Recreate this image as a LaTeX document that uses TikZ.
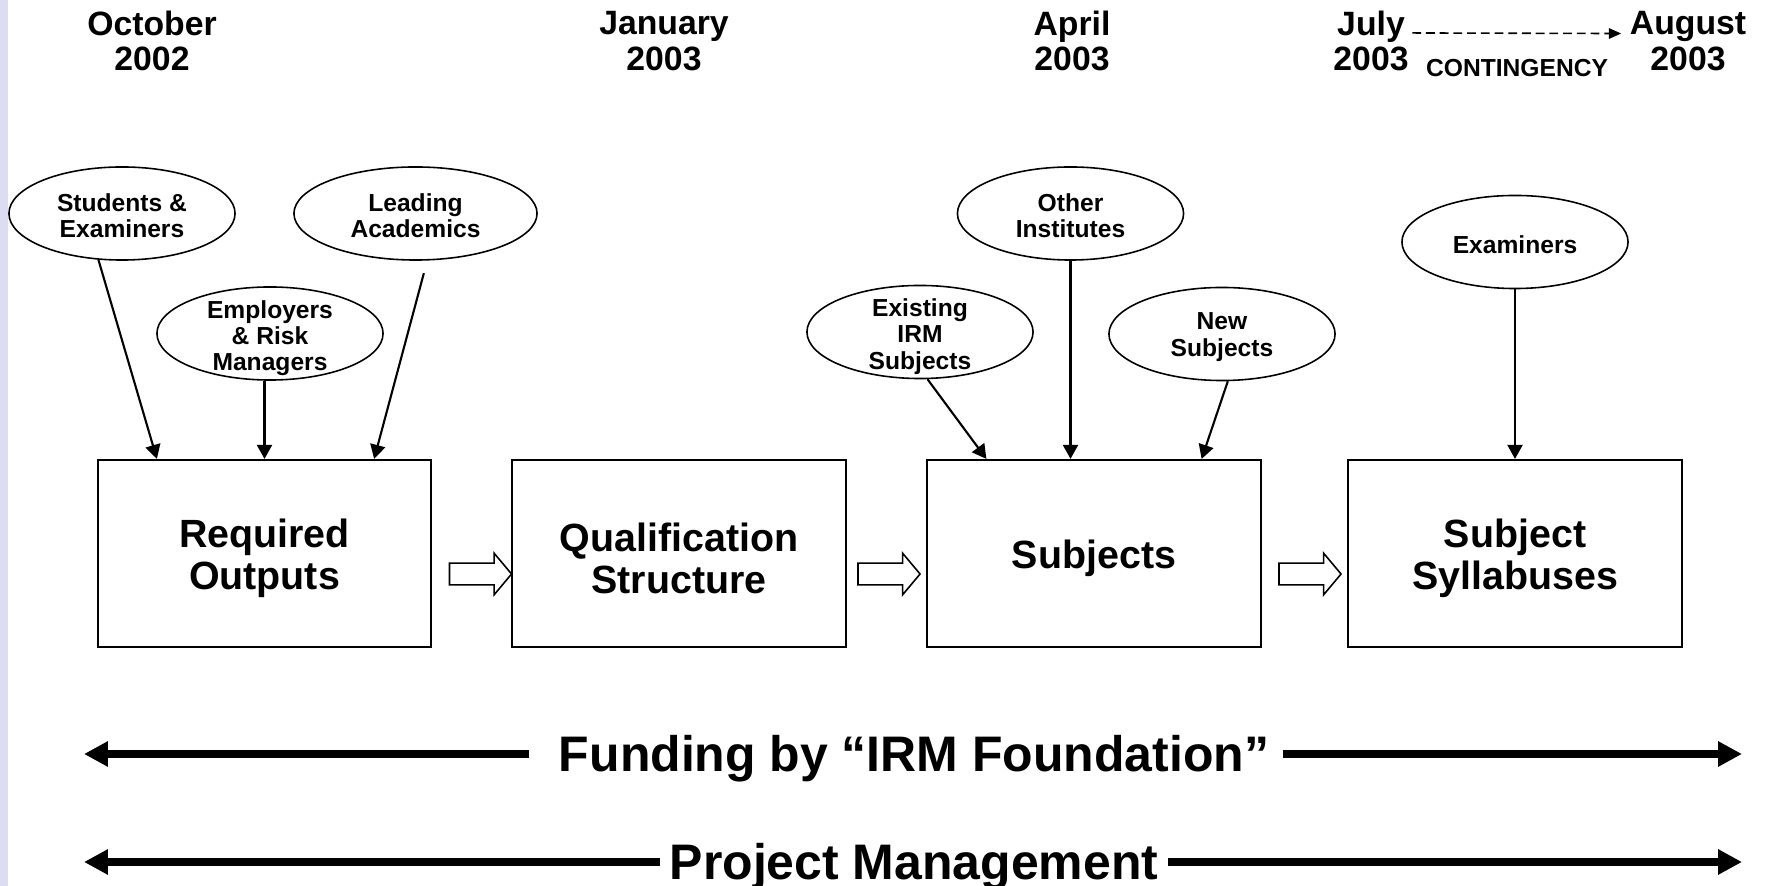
\documentclass[tikz,border=0pt]{standalone}
\usepackage{fontspec}
\setmainfont{Liberation Sans}
\usetikzlibrary{shapes.geometric,shapes.arrows,arrows.meta}
\definecolor{sidebar}{RGB}{220,220,242}

\tikzset{
	hdr/.style={font=\bfseries\fontsize{9.6}{10.2}\selectfont, align=center, inner sep=0pt},
	src/.style={draw, ellipse, line width=0.45pt, minimum width=2.26cm, minimum height=0.93cm,
		inner xsep=0pt, inner ysep=-1.5pt, align=center, text height=6.4pt,
		font=\bfseries\fontsize{7}{7.5}\selectfont},
	duo/.style={text height=14pt},
	tri/.style={text height=22.7pt, inner ysep=-2.8pt},
	stage/.style={draw, line width=0.6pt, minimum width=3.33cm, minimum height=1.87cm,
		align=center, text height=11pt, font=\bfseries\fontsize{11.2}{12}\selectfont},
	stagetwo/.style={stage, text height=22.8pt},
	feed/.style={line width=0.6pt, -{Triangle[length=4pt,width=4.3pt]}},
	flow/.style={draw, single arrow, single arrow head extend=0.1cm, single arrow tip angle=100,
		minimum height=0.62cm, inner xsep=0pt, inner ysep=0.1cm, line width=0.45pt},
	band/.style={font=\bfseries\fontsize{14.2}{16}\selectfont, inner xsep=2.5pt, inner ysep=0pt,
		text height=10.2pt, text depth=0pt},
	bandarrow/.style={line width=2.2pt, -{Triangle[length=6.8pt,width=6.8pt]}},
}

\begin{document}
\begin{tikzpicture}[x=0.01cm, y=-0.01cm]
\useasboundingbox (0,0) rectangle (1767,886);
\fill[white] (0,0) rectangle (1767,886);
\fill[sidebar] (0,0) rectangle (8,886);

\node[hdr] (oct) at (152,41) {October\\2002};
\node[hdr] (jan) at (664,41) {January\\2003};
\node[hdr] (apr) at (1072,41) {April\\2003};
\node[hdr] (jul) at (1371,41) {July\\2003};
\node[hdr] (aug) at (1688,41) {August\\2003};
\node[font=\bfseries\fontsize{7}{8}\selectfont, inner sep=0pt] (cont) at (1517,68) {CONTINGENCY};
\draw[line width=0.45pt, dash pattern=on 2.5pt off 1.4pt, -{Triangle[length=3.5pt,width=3pt]},
	shorten <=0.03cm, shorten >=0.08cm]
	([yshift=-0.23cm]jul.north east) -- ([yshift=-0.23cm]aug.north west);

\node[stagetwo] (b1) at (264.5,553.5) {Required\\Outputs};
\node[stagetwo] (b2) at (679,553.5) {Qualification\\Structure};
\node[stage] (b3) at (1094,553.5) {Subjects};
\node[stagetwo] (b4) at (1515,553.5) {Subject\\Syllabuses};

\node[flow] (f1) at (476,574) {};
\node[flow] (f2) at (884.5,574) {};
\node[flow] (f3) at (1305.5,574) {};

\node[src, duo] (stu) at (122,213.5) {Students \&\\Examiners};
\node[src, duo, minimum width=2.43cm] (lead) at (415.5,213.5) {Leading\\Academics};
\node[src, tri] (emp) at (270,333.5) {Employers\\\& Risk\\Managers};
\node[src, tri] (exi) at (920,332) {Existing\\IRM\\Subjects};
\node[src, duo] (oth) at (1070.5,213.5) {Other\\Institutes};
\node[src, duo] (new) at (1222,334) {New\\Subjects};
\node[src] (exa) at (1515,242) {Examiners};

\draw[feed] (stu.243) -- ([xshift=0.6cm]b1.north west);
\draw[feed] (emp.south -| b1.north) -- (b1.north);
\draw[feed, shorten <=0.13cm] (lead.284) -- ([xshift=-0.58cm]b1.north east);
\draw[feed] (exi.279) -- ([xshift=0.6cm]b3.north west);
\draw[feed] (oth.south) -- (oth.south |- b3.north);
\draw[feed] (new.277) -- ([xshift=-0.6cm]b3.north east);
\draw[feed] (exa.south) -- (exa.south |- b4.north);

\node[band] (fund) at (914,754) {Funding by “IRM Foundation”};
\node[band] (pm) at (914,862) {Project Management};
\coordinate (fl) at (84,754);
\coordinate (fr) at (1742,754);
\coordinate (pl) at (84,862);
\coordinate (pr) at (1742,862);
\draw[bandarrow, shorten <=0.2cm] (fund.west) -- (fl);
\draw[bandarrow, shorten <=0.04cm] (fund.east) -- (fr);
\draw[bandarrow] (pm.west) -- (pl);
\draw[bandarrow] (pm.east) -- (pr);
\end{tikzpicture}
\end{document}
